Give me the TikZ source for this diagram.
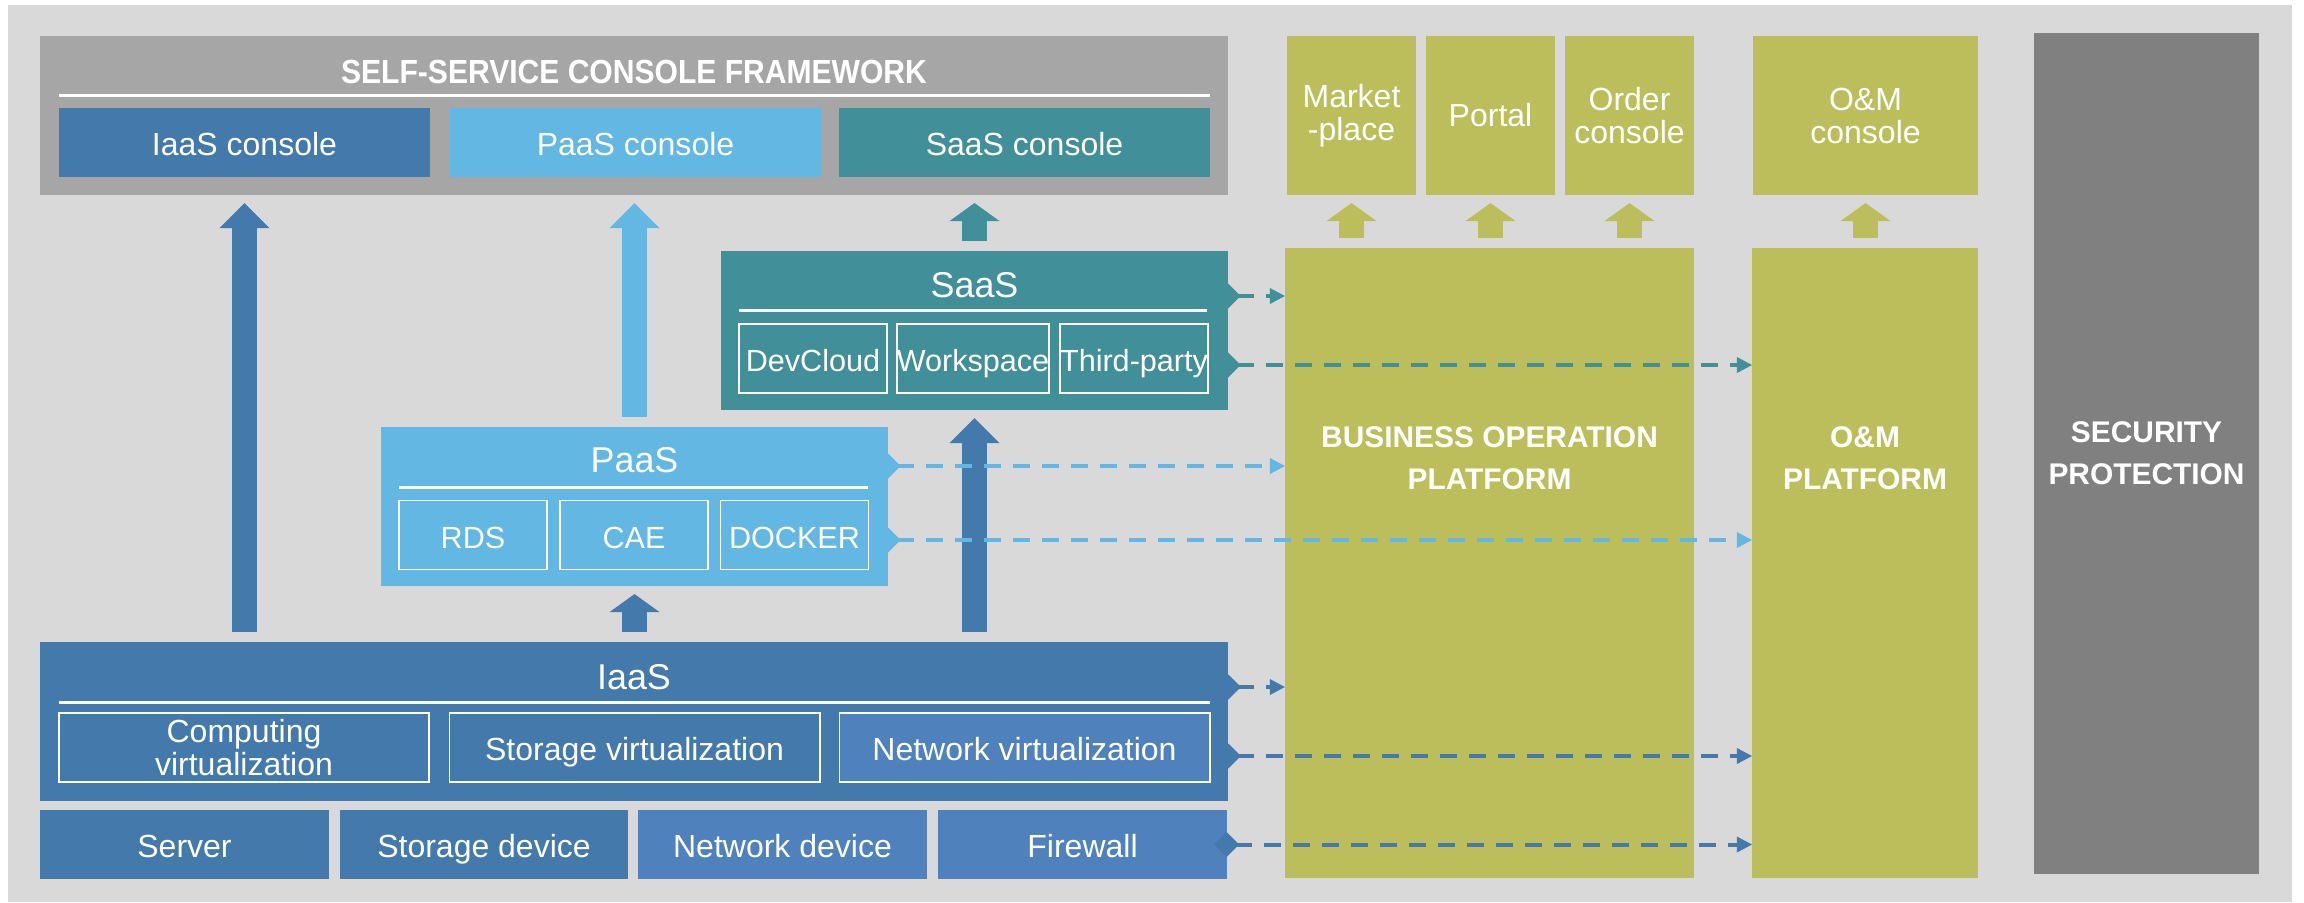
\documentclass[tikz,border=0pt]{standalone}
\usepackage{fontspec}
\setmainfont{Liberation Sans}
\newfontfamily\narrowbold[FakeStretch=0.9]{Liberation Sans}
\usepackage{tikz}
\usetikzlibrary{arrows.meta, positioning, calc}
\definecolor{BgGray}{HTML}{D9D9D9}
\definecolor{FrameGray}{HTML}{A6A6A6}
\definecolor{SecGray}{HTML}{808080}
\definecolor{IaasBlue}{HTML}{4379AB}
\definecolor{PaasBlue}{HTML}{63B7E3}
\definecolor{SaasTeal}{HTML}{418F99}
\definecolor{NetBlue}{HTML}{4F81BD}
\definecolor{Olive}{HTML}{BCBE5C}
\tikzset{
  block/.style={rectangle, inner sep=0pt, outer sep=0pt, text=white, align=center, font=\fontsize{9.1}{9.4}\selectfont},
  fixedline/.style={text height=1.6ex, text depth=0.2ex},
  subbox/.style={rectangle, draw=white, line width=0.018cm, inner sep=0pt, outer sep=0pt, minimum width=1.48cm, minimum height=0.69cm, text=white, align=center, font=\fontsize{8.7}{9.5}\selectfont},
  layertitle/.style={text=white, inner sep=0pt, font=\fontsize{10.2}{12}\selectfont},
  boldlabel/.style={text=white, align=center, inner sep=0pt, font=\fontsize{8.5}{11.95}\selectfont\bfseries},
  uparrow/.style={line width=0.25cm, -{Triangle[length=0.25cm, width=0.5cm, line width=0pt]}, shorten <=0.1cm, shorten >=0.08cm},
  smallup/.style={line width=0.25cm, -{Triangle[length=0.18cm, width=0.5cm, line width=0pt]}, shorten <=0.1cm, shorten >=0.08cm},
  flow/.style={line width=0.04cm, dash pattern=on 0.17cm off 0.12cm, {Diamond[length=0.25cm, width=0.25cm, line width=0pt]}-{Triangle[length=0.15cm, width=0.16cm, line width=0pt]}, shorten <=-0.125cm}
}
\begin{document}
\begin{tikzpicture}[x=0.01cm, y=-0.01cm]
  \useasboundingbox (0,0) rectangle (2304,902);
  \fill[BgGray] (8,5) rectangle (2292,902);

  % Console framework
  \node[block, fill=FrameGray, minimum width=11.88cm, minimum height=1.59cm] (frame) at (634,115.5) {};
  \node[text=white, inner sep=0pt, font=\narrowbold\bfseries\fontsize{9.5}{11}\selectfont] (frametitle) at (634,72) {SELF-SERVICE CONSOLE FRAMEWORK};
  \draw[white, line width=0.03cm] (59,95) -- (1210,95);
  \foreach \name/\x/\col/\txt in {iaascon/244.5/IaasBlue/IaaS, paascon/635.5/PaasBlue/PaaS, saascon/1024.5/SaasTeal/SaaS}
    \node[block, fixedline, fill=\col, minimum width=3.71cm, minimum height=0.69cm] (\name) at (\x,142.5) {\txt{} console};

  % SaaS layer
  \node[block, fill=SaasTeal, minimum width=5.07cm, minimum height=1.59cm] (saas) at (974.5,330.5) {};
  \node[layertitle] (saastitle) at (974.5,285) {SaaS};
  \draw[white, line width=0.03cm] (739,310) -- (1207,310);
  \foreach \name/\x/\txt in {devcloud/813/DevCloud, workspace/973/Workspace, thirdparty/1134/Third-party}
    \node[subbox, fixedline] (\name) at (\x,358.5) {\txt};

  % PaaS layer
  \node[block, fill=PaasBlue, minimum width=5.07cm, minimum height=1.59cm] (paas) at (634.5,506.5) {};
  \node[layertitle] (paastitle) at (634.5,460) {PaaS};
  \draw[white, line width=0.03cm] (399,487) -- (868,487);
  \foreach \name/\x/\txt in {rds/473/RDS, cae/634/CAE, docker/794.5/DOCKER}
    \node[subbox, fixedline] (\name) at (\x,535) {\txt};

  % IaaS layer
  \node[block, fill=IaasBlue, minimum width=11.88cm, minimum height=1.59cm] (iaas) at (634,721.5) {};
  \node[layertitle] (iaastitle) at (634,677) {IaaS};
  \draw[white, line width=0.03cm] (59,702) -- (1210,702);
  \node[subbox, minimum width=3.70cm, font=\fontsize{9.1}{9.5}\selectfont] (compvirt) at (244,747.5) {Computing\\virtualization};
  \node[subbox, fixedline, minimum width=3.70cm, font=\fontsize{9.1}{9.5}\selectfont] (storvirt) at (634.5,747.5) {Storage virtualization};
  \node[subbox, fixedline, minimum width=3.70cm, fill=NetBlue, font=\fontsize{9.1}{9.5}\selectfont] (netvirt) at (1024.5,747.5) {Network virtualization};

  % Hardware
  \foreach \name/\x/\col/\txt in {server/184.5/IaasBlue/Server, stordev/484/IaasBlue/Storage device, netdev/782.5/NetBlue/Network device, firewall/1082.5/NetBlue/Firewall}
    \node[block, fixedline, fill=\col, minimum width=2.88cm, minimum height=0.69cm] (\name) at (\x,844.5) {\txt};

  % Operation side
  \foreach \name/\x/\txt in {market/1351.5/Market\\-place, portal/1490.5/Portal, order/1629.5/Order\\console}
    \node[block, fill=Olive, minimum width=1.29cm, minimum height=1.59cm] (\name) at (\x,115.5) {\txt};
  \node[block, fill=Olive, minimum width=2.25cm, minimum height=1.59cm] (omcon) at (1865.5,115.5) {O\&M\\console};
  \node[block, fill=Olive, minimum width=4.09cm, minimum height=6.30cm] (bop) at (1489.5,563) {};
  \node[boldlabel] (boplabel) at (1489.5,458) {BUSINESS OPERATION\\PLATFORM};
  \node[block, fill=Olive, minimum width=2.26cm, minimum height=6.30cm] (omplat) at (1865,563) {};
  \node[boldlabel] (omlabel) at (1865,458) {O\&M\\PLATFORM};
  \node[block, fill=SecGray, minimum width=2.25cm, minimum height=8.41cm] (security) at (2146.5,453.5) {};
  \node[boldlabel] (seclabel) at (2146.5,453.5) {SECURITY\\PROTECTION};

  % Up arrows
  \draw[uparrow, IaasBlue] (iaas.north -| iaascon.south) -- (iaascon |- frame.south);
  \draw[uparrow, PaasBlue] (paas.north) -- (paas.north |- frame.south);
  \draw[smallup, SaasTeal] (saas.north) -- (saas.north |- frame.south);
  \draw[smallup, IaasBlue] (iaas.north -| paas.south) -- (paas.south);
  \draw[uparrow, IaasBlue] (iaas.north -| saas.south) -- (saas.south);
  \foreach \name in {market, portal, order}
    \draw[smallup, Olive] (bop.north -| \name.south) -- (\name.south);
  \draw[smallup, Olive] (omplat.north -| omcon.south) -- (omcon.south);

  % Dashed flows
  \foreach \src/\dst/\y/\col in {saas/bop/296/SaasTeal, saas/omplat/365/SaasTeal, paas/bop/466/PaasBlue, paas/omplat/540/PaasBlue, iaas/bop/687/IaasBlue, iaas/omplat/756/IaasBlue, firewall/omplat/844.5/IaasBlue}
    \draw[flow, \col] (\src.east |- 0,\y) -- (\dst.west |- 0,\y);
\end{tikzpicture}
\end{document}
